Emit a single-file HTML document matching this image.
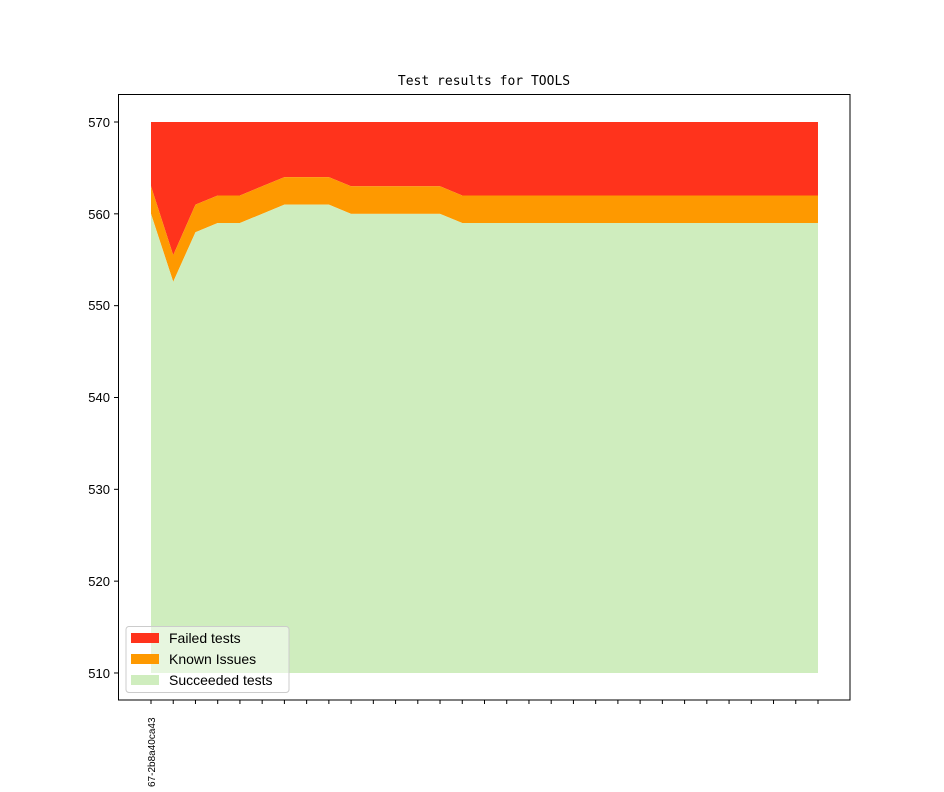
<!DOCTYPE html>
<html><head><style>body{margin:0;background:#fff}</style></head><body>
<svg id="s" width="944" height="787" xmlns="http://www.w3.org/2000/svg" font-family="Liberation Sans, DejaVu Sans, sans-serif">
<rect width="944" height="787" fill="#fff"/>
<text x="484" y="85" text-anchor="middle" font-family="DejaVu Sans Mono, Liberation Mono, monospace" font-size="13">Test results for TOOLS</text>
<g id="plot"></g>
<rect x="118.5" y="94.5" width="731.5" height="605.5" fill="none" stroke="#000" stroke-width="1"/>
<g font-size="13" text-anchor="end">
<text x="110" y="127">570</text><text x="110" y="219">560</text><text x="110" y="310">550</text>
<text x="110" y="402">540</text><text x="110" y="494">530</text><text x="110" y="586">520</text><text x="110" y="678">510</text>
</g>
<text transform="translate(155,787) rotate(-90)" font-size="10">67-2b8a40ca43</text>
<g>
<rect x="126" y="626.5" width="163" height="66" rx="3" fill="#fff" fill-opacity="0.5" stroke="#ccc"/>
<rect x="131" y="633" width="28" height="10" fill="#ff331c"/>
<rect x="131" y="654" width="28" height="10" fill="#fe9900"/>
<rect x="131" y="675" width="28" height="10" fill="#cfedbe"/>
<g font-size="14"><text x="169" y="643">Failed tests</text><text x="169" y="664">Known Issues</text><text x="169" y="685">Succeeded tests</text></g>
</g>
</svg>
<script>
var g=[560,552.6,558,559,559,560,561,561,561,560,560,560,560,560],o=[];
for(var i=14;i<31;i++)g.push(559);
for(i=0;i<31;i++)o.push(i==1?555.5:g[i]+3);
function X(i){return 151+i*22.233}function Y(v){return 122+(570-v)*9.183}
var p=document.getElementById('plot'),h='';
var tp='';
for(i=0;i<31;i++){tp+=X(i)+','+Y(570)+' ';}
var ot='',gt='';
for(i=0;i<31;i++){ot+=X(i)+','+Y(o[i])+' ';gt+=X(i)+','+Y(g[i])+' ';}
var otr=ot.trim().split(' ').reverse().join(' '),gtr=gt.trim().split(' ').reverse().join(' ');
h+='<polygon fill="#ff331c" points="'+tp+otr+'"/>';
h+='<polygon fill="#fe9900" points="'+ot+gtr+'"/>';
h+='<polygon fill="#cfedbe" points="'+gt+X(30)+','+Y(510)+' '+X(0)+','+Y(510)+'"/>';
for(i=0;i<31;i++)h+='<line x1="'+X(i)+'" x2="'+X(i)+'" y1="700" y2="704" stroke="#000"/>';
[510,520,530,540,550,560,570].forEach(function(v){h+='<line x1="114" x2="118" y1="'+Y(v)+'" y2="'+Y(v)+'" stroke="#000"/>';});
p.innerHTML=h;
</script>
</body></html>
